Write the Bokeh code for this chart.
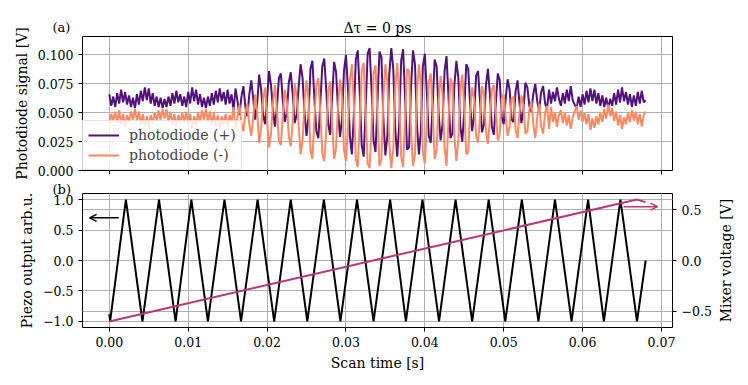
import math
import numpy as np
from bokeh.plotting import figure
from bokeh.layouts import column
from bokeh.models import Range1d, LinearAxis, FixedTicker, Grid, Arrow, OpenHead, Label, GridBox
from bokeh.embed import file_html
from bokeh.resources import INLINE

# ---------------- data ----------------
scan_end_s = 0.068

# photodiode signals in mV, sampled uniformly over the scan
pd_plus_mV = [
    66, 56, 64, 55, 67, 58, 70, 59, 68, 57,
    65, 55, 63, 54, 66, 57, 69, 60, 72, 61,
    71, 58, 67, 56, 64, 55, 63, 54, 62, 55,
    64, 56, 67, 58, 69, 59, 66, 56, 64, 55,
    68, 58, 72, 60, 70, 57, 66, 55, 63, 54,
    64, 56, 67, 57, 69, 59, 71, 60, 68, 57,
    70, 58, 66, 52, 71, 60, 48, 64, 73, 55, 47, 66,
    78, 62, 44, 58, 83, 70, 48, 40, 62, 86, 74, 52, 38, 55, 80, 84, 60, 42, 50, 76, 85, 66, 41, 48,
    72, 92, 80, 50, 30, 46, 88, 95, 62, 34, 28, 58, 90, 97, 70, 40, 31, 64, 94, 85, 52, 29, 44, 86,
    100, 72, 30, 14, 48, 96, 104, 66, 22, 12, 54, 101, 106, 70, 26, 16, 60, 103, 98, 44,
    13, 30, 84, 106, 88, 36, 12, 40, 95, 105, 62, 18, 20, 72, 104, 92, 40, 14, 34, 90,
    101, 68, 30, 24, 58, 96, 90, 50, 26, 40, 86, 99, 64, 28, 32, 74, 95, 80, 38, 25, 52, 92, 88,
    56, 34, 48, 82, 86, 60, 33, 40, 74, 88, 66, 38, 31, 58, 84, 78, 46,
    40, 62, 79, 70, 44, 42, 68, 78, 58, 41, 52, 76,
    72, 56, 51, 66, 75, 60, 52, 68, 73, 58, 54, 70,
    58, 68, 60, 72, 62, 56, 67, 58, 70, 60,
    73, 61, 57, 54, 64, 55, 66, 57, 69, 59,
    71, 60, 70, 58, 67, 56, 65, 55, 63, 54,
    62, 56, 67, 57, 70, 59, 72, 60, 68, 57,
    66, 55, 65, 56, 68, 58, 69, 59, 61,
]
pd_minus_mV = [
    40, 49, 43, 51, 41, 52, 40, 49, 38, 48,
    42, 51, 44, 53, 43, 51, 40, 49, 38, 47,
    37, 48, 41, 50, 43, 52, 44, 53, 45, 53,
    42, 51, 40, 49, 38, 48, 41, 50, 42, 51,
    40, 49, 37, 47, 39, 50, 42, 52, 44, 53,
    42, 51, 40, 50, 38, 48, 37, 47, 40, 49,
    38, 48, 42, 55, 36, 46, 57, 41, 34, 50, 58, 40,
    30, 46, 66, 50, 24, 36, 62, 72, 44, 20, 32, 58, 74, 52, 26, 22, 48, 70, 60, 30, 21, 42, 75, 64,
    40, 14, 26, 60, 78, 62, 18, 10, 44, 74, 80, 50, 15, 8, 34, 68, 77, 42, 10, 20, 56, 79, 64, 18,
    8, 36, 78, 92, 58, 10, 3, 42, 86, 93, 50, 6, 2, 38, 84, 91, 46, 4, 10, 64,
    92, 76, 22, 2, 18, 72, 93, 66, 12, 3, 46, 88, 86, 34, 4, 14, 68, 92, 74, 16,
    6, 40, 76, 84, 50, 10, 18, 60, 82, 66, 20, 4, 44, 80, 74, 30, 8, 26, 70, 83, 54, 14, 16,
    52, 72, 62, 30, 24, 46, 73, 66, 34, 23, 44, 70, 74, 50, 26, 32, 62,
    66, 46, 30, 38, 62, 64, 36, 28, 50, 65, 56, 32,
    34, 52, 60, 40, 28, 46, 58, 38, 32, 50, 56, 36,
    55, 42, 50, 38, 48, 52, 41, 50, 39, 48,
    36, 46, 51, 56, 44, 52, 42, 50, 40, 49,
    35, 45, 37, 47, 40, 50, 42, 53, 45, 57,
    47, 54, 43, 51, 39, 48, 36, 46, 40, 50,
    42, 52, 43, 51, 40, 49, 38, 48, 51,
]

# piezo triangle wave: vertex times [s] and values [arb.u.]
piezo_t = [0.0, 0.0001,
           0.0021, 0.0042, 0.0063, 0.0084, 0.0104, 0.0125, 0.0146, 0.0167,
           0.0188, 0.0209, 0.0230, 0.0251, 0.0272, 0.0293, 0.0314, 0.0335,
           0.0356, 0.0376, 0.0397, 0.0418, 0.0439, 0.0460, 0.0481, 0.0502,
           0.0523, 0.0544, 0.0565, 0.0586, 0.0607, 0.0627, 0.0648, 0.0669,
           0.0680]
piezo_v = [-0.88, -1.0,
           1.0, -1.0, 1.0, -1.0, 1.0, -1.0, 1.0, -1.0,
           1.0, -1.0, 1.0, -1.0, 1.0, -1.0, 1.0, -1.0,
           1.0, -1.0, 1.0, -1.0, 1.0, -1.0, 1.0, -1.0,
           1.0, -1.0, 1.0, -1.0, 1.0, -1.0, 1.0, -1.0,
           0.0]

# mixer voltage ramp
mixer_t = [0.0, 0.0669, 0.068]
mixer_v = [-0.6, 0.6, 0.575]

# ticks
x_ticks = [0.0, 0.01, 0.02, 0.03, 0.04, 0.05, 0.06, 0.07]
x_tick_labels = ["0.00", "0.01", "0.02", "0.03", "0.04", "0.05", "0.06", "0.07"]
pd_ticks = [0.0, 0.025, 0.05, 0.075, 0.1]
pd_tick_labels = ["0.000", "0.025", "0.050", "0.075", "0.100"]
piezo_ticks = [-1.0, -0.5, 0.0, 0.5, 1.0]
piezo_tick_labels = ["\u22121.0", "\u22120.5", "0.0", "0.5", "1.0"]
mixer_ticks = [-0.5, 0.0, 0.5]
mixer_tick_labels = ["\u22120.5", "0.0", "0.5"]

# ---------------- styling ----------------
FONT = "DejaVu Serif"
C_PLUS = "#51127c"
C_MINUS = "#fc8961"
C_RAMP = "#b73779"
GRID = "#b0b0b0"
W, H = 748, 385
H1 = 183

t_pd = np.linspace(0.0, scan_end_s, len(pd_plus_mV))
plus_V = np.array(pd_plus_mV) / 1000.0
minus_V = np.array(pd_minus_mV) / 1000.0


def style_axis(ax, ticks, labels):
    ax.ticker = FixedTicker(ticks=ticks)
    ax.major_label_overrides = dict(zip(ticks, labels))
    ax.major_label_text_font = FONT
    ax.major_label_text_font_size = "12.5px"
    ax.major_label_text_color = "black"
    ax.axis_label_text_font = FONT
    ax.axis_label_text_font_size = "14px"
    ax.axis_label_text_font_style = "normal"
    ax.axis_label_text_color = "black"
    ax.major_tick_in = 0
    ax.major_tick_out = 4
    ax.minor_tick_in = 0
    ax.minor_tick_out = 0
    ax.minor_tick_line_color = None
    ax.axis_line_color = None
    ax.major_tick_line_color = "black"
    ax.major_tick_line_width = 1


x_range = Range1d(-0.0034, 0.0714)

# ---------------- top panel (a) ----------------
p1 = figure(width=W, height=H1, x_range=x_range, y_range=Range1d(0.0, 0.116),
            output_backend="svg", toolbar_location=None, title_location=None,
            min_border_left=82, min_border_right=76, min_border_top=36, min_border_bottom=13)
p1.outline_line_color = "black"
p1.outline_line_width = 1

p1.line(t_pd, plus_V, line_color=C_PLUS, line_width=2, legend_label="photodiode (+)")
p1.line(t_pd, minus_V, line_color=C_MINUS, line_width=2, legend_label="photodiode (-)")

xa1 = p1.xaxis[0]
xa1.ticker = FixedTicker(ticks=[], minor_ticks=x_ticks)
xa1.major_label_standoff = 0
xa1.major_tick_out = 0
xa1.major_tick_in = 0
xa1.minor_tick_out = 4
xa1.minor_tick_in = 0
xa1.minor_tick_line_color = "black"
xa1.axis_line_color = None

style_axis(p1.yaxis[0], pd_ticks, pd_tick_labels)
p1.yaxis[0].axis_label = "Photodiode signal [V]"

p1.xgrid.ticker = FixedTicker(ticks=x_ticks)
p1.ygrid.ticker = FixedTicker(ticks=pd_ticks)
for g in (p1.xgrid, p1.ygrid):
    g.grid_line_color = GRID
    g.grid_line_width = 1

lg = p1.legend[0]
lg.location = "bottom_left"
lg.margin = 0
lg.padding = 5
lg.spacing = 2
lg.glyph_width = 31
lg.glyph_height = 18
lg.label_height = 18
lg.label_standoff = 10
lg.label_text_font = FONT
lg.label_text_font_size = "14px"
lg.border_line_color = "#cccccc"
lg.background_fill_alpha = 0.8

# ---------------- bottom panel (b) ----------------
p2 = figure(width=W, height=H - H1, x_range=x_range, y_range=Range1d(-1.1, 1.1),
            output_backend="svg", toolbar_location=None, title_location=None,
            min_border_left=82, min_border_right=76, min_border_top=10, min_border_bottom=58)
p2.outline_line_color = "black"
p2.outline_line_width = 1
p2.extra_y_ranges = {"mixer": Range1d(-0.66, 0.66)}

style_axis(p2.xaxis[0], x_ticks, x_tick_labels)
p2.xaxis[0].axis_label = "Scan time [s]"
style_axis(p2.yaxis[0], piezo_ticks, piezo_tick_labels)
p2.yaxis[0].axis_label = "Piezo output arb.u."

rax = LinearAxis(y_range_name="mixer")
style_axis(rax, mixer_ticks, mixer_tick_labels)
p2.add_layout(rax, "right")

p2.xgrid.ticker = FixedTicker(ticks=x_ticks)
p2.ygrid.ticker = FixedTicker(ticks=piezo_ticks)
rgrid = Grid(dimension=1, ticker=FixedTicker(ticks=mixer_ticks), y_range_name="mixer")
p2.add_layout(rgrid)
for g in (p2.xgrid, p2.ygrid, rgrid):
    g.grid_line_color = GRID
    g.grid_line_width = 1

p2.line(piezo_t, piezo_v, line_color="black", line_width=2)
p2.line(mixer_t, mixer_v, line_color=C_RAMP, line_width=2, y_range_name="mixer")

p2.add_layout(Arrow(end=OpenHead(size=7, line_color="black", line_width=1.5),
                    x_start=0.0012, y_start=0.7, x_end=-0.0025, y_end=0.7,
                    line_color="black", line_width=1.5))
p2.add_layout(Arrow(end=OpenHead(size=7, line_color=C_RAMP, line_width=1.5),
                    x_start=0.0652, y_start=0.53, x_end=0.0695, y_end=0.53,
                    line_color=C_RAMP, line_width=1.5, y_range_name="mixer"))

# ---------------- transparent caption layer over both panels (pixel units) ----------------
cap = figure(width=W, height=H, x_range=Range1d(0, W), y_range=Range1d(0, H),
             output_backend="svg", toolbar_location=None, title_location=None,
             x_axis_location=None, y_axis_location=None, min_border=0)
cap.outline_line_color = None
cap.background_fill_color = None
cap.border_fill_color = None
cap.xgrid.visible = False
cap.ygrid.visible = False

cap.add_layout(Label(x=52, y=H - 27, text="(a)", text_font=FONT, text_font_size="13px",
                     text_align="left", text_baseline="alphabetic", text_color="black"))
cap.add_layout(Label(x=377, y=H - 27, text="\u0394\u03c4 = 0 ps", text_font=FONT,
                     text_font_size="14px", text_align="center", text_baseline="alphabetic",
                     text_color="black"))
cap.add_layout(Label(x=52, y=H - 188.5, text="(b)", text_font=FONT, text_font_size="13px",
                     text_align="left", text_baseline="alphabetic", text_color="black"))
cap.add_layout(Label(x=725, y=H - 260, text="Mixer voltage [V]", text_font=FONT,
                     text_font_size="14px", text_align="center", text_baseline="middle",
                     angle=math.pi / 2, text_color="black"))

# panels and caption layer share the same grid cell; wrapping each in its own column
# keeps the caption layer's frame independent of the panels' frames
layout = GridBox(children=[(column(p1, p2), 0, 0), (column(cap), 0, 0)])
open("out.html", "w").write(file_html(layout, INLINE))
